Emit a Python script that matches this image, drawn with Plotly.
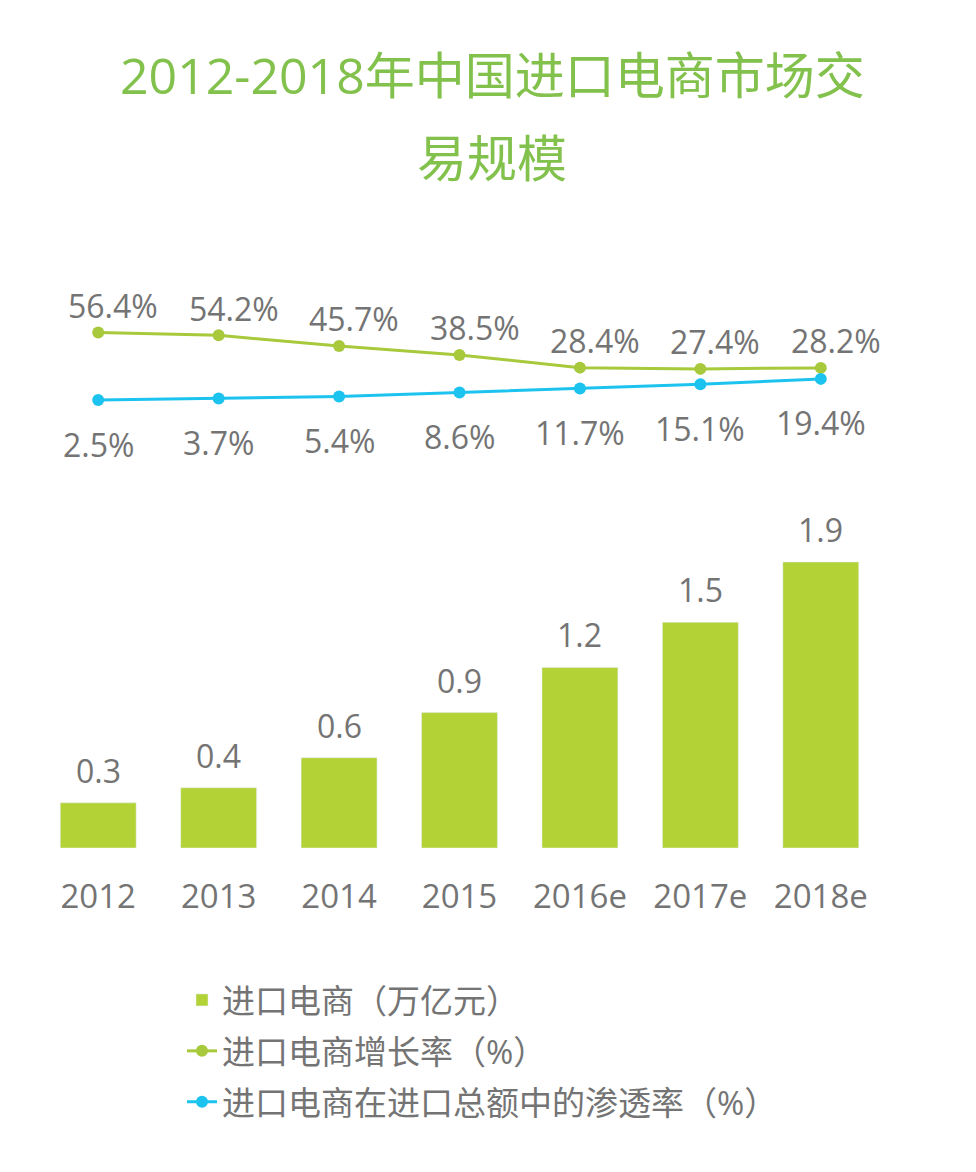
import plotly.graph_objects as go

years = ["2012", "2013", "2014", "2015", "2016e", "2017e", "2018e"]
scale = [0.3, 0.4, 0.6, 0.9, 1.2, 1.5, 1.9]            # 进口电商（万亿元）
growth = [56.4, 54.2, 45.7, 38.5, 28.4, 27.4, 28.2]     # 增长率（%）
penetration = [2.5, 3.7, 5.4, 8.6, 11.7, 15.1, 19.4]    # 渗透率（%）

W, H = 976, 1172
OFF = 8                      # 页面 body 默认边距
ML = 38 - OFF
MR = W - (881 - OFF)
FONT = "Open Sans, Noto Sans CJK SC, sans-serif"
GRAY = "#747474"
BAR_GREEN = "#b3d236"
LINE_GREEN = "#a7c93b"
BLUE = "#1dc3ef"
TITLE_GREEN = "#82c14c"


def px_x(px):
    return (px - OFF - ML) / (W - ML - MR)


def px_y(py):
    return (H - (py - OFF)) / H


fig = go.Figure()

fig.add_trace(go.Bar(
    x=years, y=scale, name="进口电商（万亿元）",
    marker=dict(color=BAR_GREEN), legendgroup="a",
    xaxis="x", yaxis="y",
))
fig.add_trace(go.Scatter(
    x=years, y=growth, name="进口电商增长率（%）", mode="lines+markers",
    line=dict(color=LINE_GREEN, width=3), marker=dict(size=12, color=LINE_GREEN),
    legendgroup="b", xaxis="x2", yaxis="y2",
))
fig.add_trace(go.Scatter(
    x=years, y=penetration, name="进口电商在进口总额中的渗透率（%）", mode="lines+markers",
    line=dict(color=BLUE, width=3), marker=dict(size=12, color=BLUE),
    legendgroup="c", xaxis="x2", yaxis="y2",
))

annotations = []
for i, v in enumerate(scale):
    annotations.append(dict(x=i, y=v, xref="x", yref="y", text=f"{v}", showarrow=False,
                            xanchor="center", yanchor="bottom", yshift=9,
                            font=dict(size=32, color=GRAY)))
for i, v in enumerate(growth):
    annotations.append(dict(x=i, y=v, xref="x2", yref="y2", text=f"{v}%", showarrow=False,
                            xanchor="center", yanchor="middle", xshift=15, yshift=27,
                            font=dict(size=32, color=GRAY)))
for i, v in enumerate(penetration):
    annotations.append(dict(x=i, y=v, xref="x2", yref="y2", text=f"{v}%", showarrow=False,
                            xanchor="center", yanchor="middle", yshift=-44,
                            font=dict(size=32, color=GRAY)))

# 标题（两行）
annotations.append(dict(x=px_x(492), y=px_y(75), xref="paper", yref="paper",
                        text="2012-2018年中国进口电商市场交", showarrow=False,
                        xanchor="center", yanchor="middle",
                        font=dict(size=50, color=TITLE_GREEN)))
annotations.append(dict(x=px_x(492), y=px_y(158), xref="paper", yref="paper",
                        text="易规模", showarrow=False,
                        xanchor="center", yanchor="middle",
                        font=dict(size=50, color=TITLE_GREEN)))

fig.update_layout(
    width=W, height=H,
    margin=dict(l=ML, r=MR, t=0, b=0, autoexpand=False),
    paper_bgcolor="white", plot_bgcolor="white",
    font=dict(family=FONT, color=GRAY),
    bargap=0.37,
    showlegend=True,
    legend=dict(
        x=px_x(182), y=px_y(972), xanchor="left", yanchor="top",
        font=dict(size=33, color=GRAY),
        traceorder="grouped", tracegroupgap=5,
        bgcolor="rgba(0,0,0,0)",
    ),
    xaxis=dict(
        type="category", range=[-0.5, 6.5], domain=[0, 1], anchor="y",
        showgrid=False, showline=False, zeroline=False, ticks="",
        tickfont=dict(size=33, color=GRAY), ticklabelstandoff=26,
        tickangle=0,
    ),
    yaxis=dict(
        range=[0, 2.0], domain=[px_y(848), px_y(547)],
        visible=False,
    ),
    xaxis2=dict(
        type="category", range=[-0.5, 6.5], domain=[0, 1], anchor="y2",
        visible=False,
    ),
    yaxis2=dict(
        range=[-5, 62], domain=[px_y(409.4), px_y(325.6)],
        visible=False,
    ),
    annotations=annotations,
)

fig.write_html("out.html")
